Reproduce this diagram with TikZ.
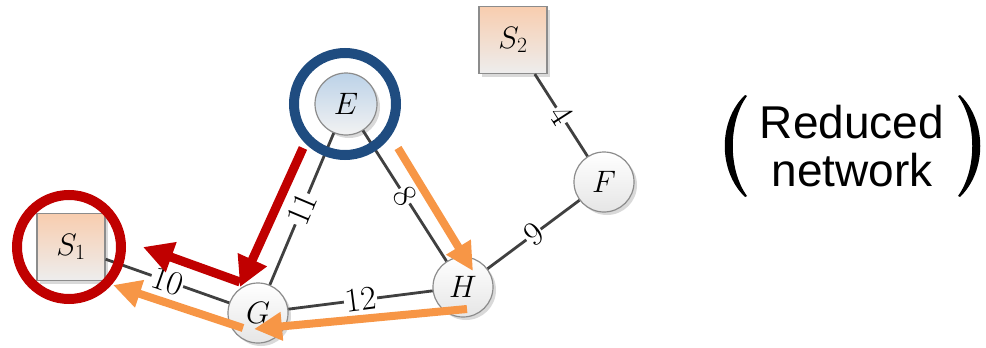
\RequirePackage{fix-cm}
\documentclass[tikz,border=0pt]{standalone}
\usepackage{fontspec}
\setsansfont{Liberation Sans}
\usetikzlibrary{arrows.meta,shadows}

\definecolor{edgegray}{RGB}{64,64,64}
\definecolor{pathred}{RGB}{192,0,0}
\definecolor{pathorange}{RGB}{247,150,70}
\definecolor{ringblue}{RGB}{31,76,128}
\definecolor{nodeborder}{RGB}{140,140,140}
\definecolor{peach}{RGB}{248,205,175}
\definecolor{paleblue}{RGB}{188,210,232}

\tikzset{
  x=1pt, y=-1pt,
  busnode/.style={circle, draw=nodeborder, line width=1.2pt, minimum size=60pt,
    inner sep=0pt, top color=white, bottom color=black!10,
    drop shadow={shadow xshift=3pt, shadow yshift=-3pt, opacity=0.25, fill=black!60},
    font=\fontsize{31}{34}\selectfont},
  subnode/.style={busnode, top color=paleblue, bottom color=black!5},
  srcnode/.style={rectangle, draw=nodeborder, line width=1.2pt, minimum width=68pt,
    minimum height=67pt, inner sep=0pt, top color=peach, bottom color=black!7,
    drop shadow={shadow xshift=3pt, shadow yshift=-3pt, opacity=0.25, fill=black!60},
    font=\fontsize{31}{34}\selectfont},
  link/.style={draw=edgegray, line width=2.8pt},
  weight/.style={midway, sloped, fill=white, inner sep=1pt,
    font=\fontsize{34}{36}\selectfont},
  ring/.style={draw=#1, line width=10pt},
  redpath/.style={draw=pathred, line width=9pt,
    -{Triangle[length=30pt, width=30pt]}},
  orangepath/.style={draw=pathorange, line width=8pt,
    -{Triangle[length=28pt, width=27pt]}},
  caption/.style={font=\sffamily\fontsize{46}{48}\selectfont, align=center},
  bracket/.style={fill=black},
}

\begin{document}
\begin{tikzpicture}
\useasboundingbox (0,0) rectangle (986,348);

% buses and sources
\node[srcnode] (S1) at (71,247) {$S_1$};
\node[srcnode] (S2) at (513,40) {$S_2$};
\node[subnode, minimum size=62pt] (E) at (346,104) {$E$};
\node[busnode] (F) at (604,182) {$F$};
\node[busnode] (G) at (258,313) {$G$};
\node[busnode] (H) at (463,287) {$H$};

% weighted links
\draw[link] (S2) -- node[weight] {$4$} (F);
\draw[link] (F) -- node[weight] {$9$} (H);
\draw[link] (E) -- node[weight] {$8$} (H);
\draw[link] (G) -- node[weight] {$11$} (E);
\draw[link] (G) -- node[weight] {$12$} (H);
\draw[link] (S1) -- node[weight] {$10$} (G);

% highlight rings
\node[circle, ring=ringblue, minimum size=102pt, inner sep=0pt] (ringE) at (345,104) {};
\node[circle, ring=pathred, minimum size=104pt, inner sep=0pt] (ringS) at (69,247) {};

% path arrows
\coordinate (r1a) at (303,148); \coordinate (r1b) at (240,287);
\coordinate (r2a) at (240,282); \coordinate (r2b) at (143,247);
\coordinate (o1a) at (398,148); \coordinate (o1b) at (473,271);
\coordinate (o2a) at (467,309); \coordinate (o2b) at (254,329);
\coordinate (o3a) at (243,328); \coordinate (o3b) at (113,285);
\draw[redpath] (r1a) -- (r1b);
\draw[redpath] (r2a) -- (r2b);
\draw[orangepath] (o1a) -- (o1b);
\draw[orangepath] (o2a) -- (o2b);
\draw[orangepath] (o3a) -- (o3b);

% caption with tall round brackets
\node[caption] (cap) at (852,146) {Reduced\\network};
\fill[bracket] (745,95) .. controls (718,121) and (718,171) .. (745,197)
  -- (747,196) .. controls (728,170) and (728,122) .. (747,96) -- cycle;
\fill[bracket] (960,95) .. controls (987,121) and (987,171) .. (960,197)
  -- (958,196) .. controls (977,170) and (977,122) .. (958,96) -- cycle;
\end{tikzpicture}
\end{document}
